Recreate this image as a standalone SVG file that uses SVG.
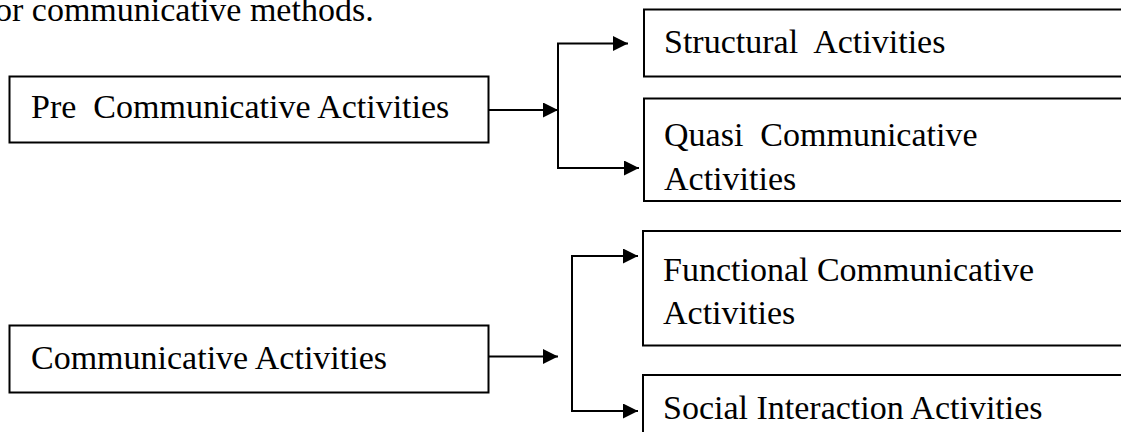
<svg xmlns="http://www.w3.org/2000/svg" width="1121" height="432" viewBox="0 0 1121 432">
<defs>
<marker id="ah" markerWidth="15" markerHeight="15" refX="15" refY="7.5" orient="auto" markerUnits="userSpaceOnUse"><path d="M0,0 L15,7.5 L0,15 z" fill="#000"/></marker>
<style>
.box{fill:#fff;stroke:#000;stroke-width:2}
.t{font-family:"Liberation Serif","Times New Roman",serif;font-size:34px;fill:#000;white-space:pre}
.c{fill:none;stroke:#000;stroke-width:2}
.a{fill:none;stroke:#000;stroke-width:2;marker-end:url(#ah)}
</style>
</defs>
<rect width="1121" height="432" fill="#fff"/>
<text class="t" x="-5" y="21">or communicative methods.</text>
<g id="connectors">
<path class="a" d="M488,110 H558"/>
<path class="c" d="M558,43.5 V168"/>
<path class="a" d="M557,43.5 H628"/>
<path class="a" d="M557,168 H639"/>
<path class="a" d="M488,356.5 H558"/>
<path class="c" d="M572,256 V411"/>
<path class="a" d="M571,256 H638"/>
<path class="a" d="M571,411 H638"/>
</g>
<g id="pre">
<rect class="box" x="9.5" y="76.5" width="479" height="66"/>
<text class="t" x="31" y="118">Pre  Communicative Activities</text>
</g>
<g id="structural">
<rect class="box" x="644" y="9.5" width="500" height="67"/>
<text class="t" x="664" y="53">Structural  Activities</text>
</g>
<g id="quasi">
<rect class="box" x="644" y="98.5" width="500" height="102.5"/>
<text class="t" x="664" y="146">Quasi  Communicative</text>
<text class="t" x="664" y="190">Activities</text>
</g>
<g id="communicative">
<rect class="box" x="9.5" y="325.5" width="479" height="67"/>
<text class="t" x="31" y="369">Communicative Activities</text>
</g>
<g id="functional">
<rect class="box" x="643" y="231" width="500" height="114.5"/>
<text class="t" x="663" y="281">Functional Communicative</text>
<text class="t" x="663" y="324">Activities</text>
</g>
<g id="social">
<rect class="box" x="643" y="375" width="500" height="100"/>
<text class="t" x="663" y="419">Social Interaction Activities</text>
</g>
</svg>
